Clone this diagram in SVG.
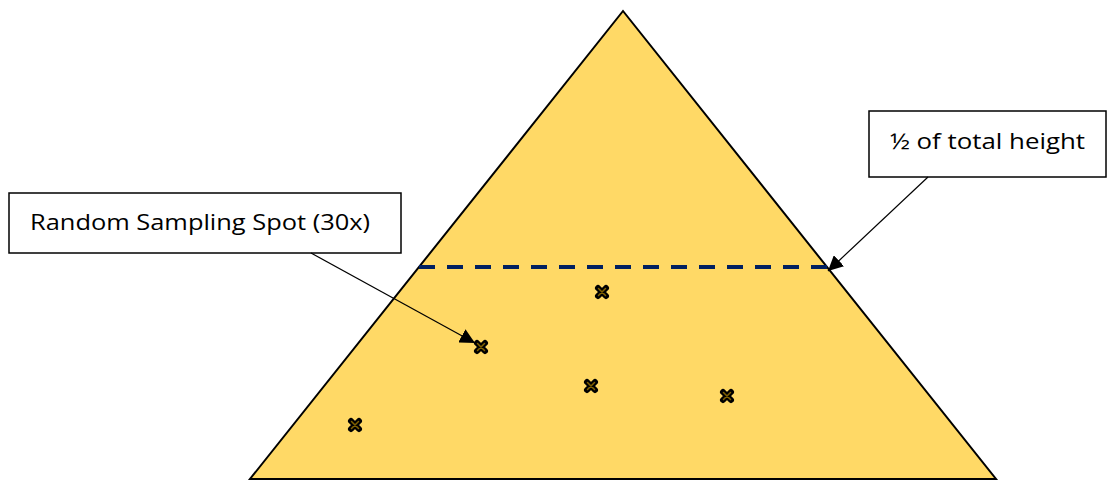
<svg xmlns="http://www.w3.org/2000/svg" width="1108" height="480" viewBox="0 0 1108 480">
<style>
.box{fill:#fff;stroke:#000;stroke-width:1.5}
.lbl{font-family:"Open Sans","Liberation Sans",Arial,sans-serif;font-size:22px;fill:#000}
.conn{stroke:#000;stroke-width:1.2;fill:none}
.xo{stroke:#000;stroke-width:6;stroke-linecap:round}
.xi{stroke:#7F6000;stroke-width:1.5;stroke-linecap:round}
</style>
<defs>
<marker id="ah" viewBox="0 0 10 10" refX="10" refY="5" markerWidth="15" markerHeight="15" markerUnits="userSpaceOnUse" orient="auto">
<path d="M0,0 L10,5 L0,10 Z" fill="#000"/>
</marker>
<g id="xmark">
<path class="xo" d="M-4,-4 L4,4 M4,-4 L-4,4"/>
<path class="xi" d="M-3.5,-3.5 L3.5,3.5 M3.5,-3.5 L-3.5,3.5"/>
</g>
</defs>
<rect width="1108" height="480" fill="#fff"/>
<g id="pyramid">
<polygon points="623,11 250,479 996,479" fill="#FFD966" stroke="#000" stroke-width="2"/>
<line x1="419" y1="267" x2="827" y2="267" stroke="#002060" stroke-width="4" stroke-dasharray="16,12"/>
</g>
<g id="spots">
<use href="#xmark" x="602" y="292"/>
<use href="#xmark" x="481" y="347"/>
<use href="#xmark" x="591" y="386"/>
<use href="#xmark" x="727" y="396"/>
<use href="#xmark" x="355" y="425"/>
</g>
<g id="label-half">
<rect class="box" x="869" y="111" width="237" height="66"/>
<text class="lbl" x="890" y="149" textLength="195" lengthAdjust="spacingAndGlyphs">½ of total height</text>
</g>
<g id="label-spot">
<rect class="box" x="9" y="193" width="392" height="60"/>
<text class="lbl" x="30" y="230" textLength="340" lengthAdjust="spacingAndGlyphs">Random Sampling Spot (30x)</text>
</g>
<g id="connectors">
<line class="conn" x1="311" y1="253" x2="475" y2="343" marker-end="url(#ah)"/>
<line class="conn" x1="928" y1="177" x2="828" y2="271" marker-end="url(#ah)"/>
</g>
</svg>
